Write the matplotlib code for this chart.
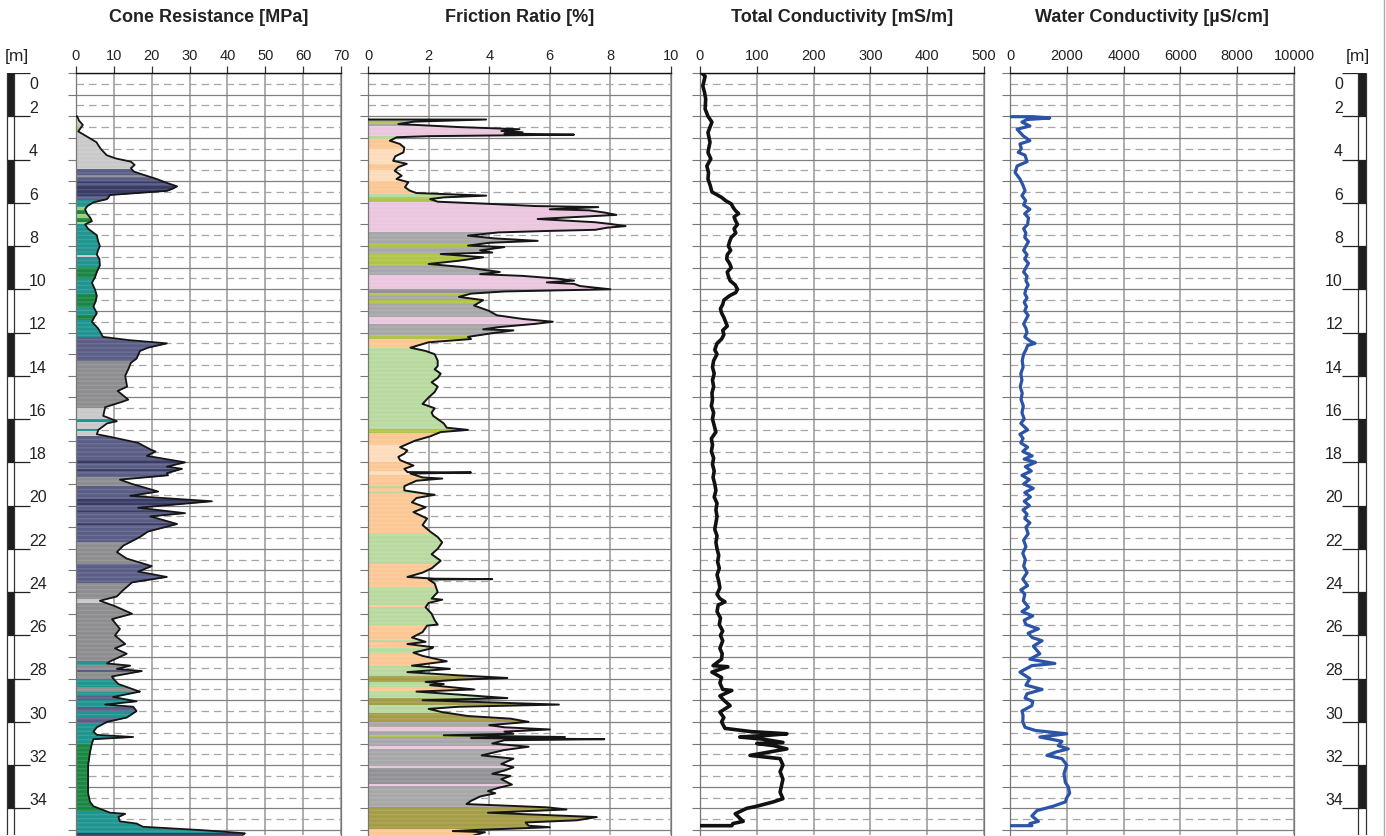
import numpy as np
import matplotlib
matplotlib.use("Agg")
import matplotlib.pyplot as plt
from matplotlib.patches import Rectangle
from matplotlib.lines import Line2D

plt.rcParams['font.family'] = ['Liberation Sans', 'DejaVu Sans']

# ---------------- data ----------------
QC_DEPTH = [2.0, 2.2, 2.4, 2.55, 2.7, 2.9, 3.2, 3.5, 3.8, 3.95, 4.1, 4.25, 4.4, 4.55, 4.7, 4.9, 5.05, 5.24, 5.35, 5.45,
            5.55, 5.64, 5.83, 5.98, 6.15, 6.3, 6.5, 6.7, 6.85, 7.0, 7.2, 7.5, 7.75, 8.0, 8.2, 8.4, 8.6, 8.9, 9.2, 9.45,
            9.7, 10.0, 10.3, 10.55, 10.8, 11.1, 11.3, 11.5, 11.8, 12.0, 12.2, 12.35, 12.5, 12.7, 12.85, 13.2, 13.4, 13.7,
            14.0, 14.5, 14.7, 15.1, 15.2, 15.45, 15.85, 16.1, 16.2, 16.5, 16.7, 16.85, 17.1, 17.4, 17.5, 17.7, 18.0, 18.2,
            18.3, 18.5, 18.6, 18.8, 19.0, 19.35, 19.55, 19.8, 20.1, 20.35, 20.5, 20.85, 21.2, 21.45, 21.85, 22.15, 22.45,
            22.8, 23.05, 23.3, 23.55, 23.95, 24.2, 24.4, 24.65, 25.0, 25.25, 25.7, 26.0, 26.4, 26.6, 26.85, 27.2, 27.3,
            27.4, 27.55, 27.65, 27.9, 28.0, 28.25, 28.55, 28.6, 28.85, 29.05, 29.2, 29.3, 29.5, 29.8, 30.0, 30.25, 30.45,
            30.6, 30.7, 30.8, 31.0, 31.4, 32.0, 33.3, 33.7, 33.9, 34.2, 34.25, 34.4, 34.6, 34.7, 34.85, 35.0, 35.1, 35.15,
            35.25]
QC_VALUE = [0.3, 0.8, 1.8, 1.2, 0.6, 2.5, 5.4, 6.5, 8.1, 10.5, 14.5, 15.5, 14.5, 15.2, 17.7, 21.3, 23.5, 26.7, 25.5, 24.0,
            16.0, 9.0, 8.2, 4.6, 3.0, 2.4, 2.9, 3.8, 4.2, 2.4, 3.2, 5.5, 5.8, 6.3, 5.8, 5.5, 6.2, 6.3, 5.5, 5.0,
            4.2, 5.0, 5.5, 5.2, 4.6, 5.5, 4.8, 4.2, 5.8, 6.5, 7.1, 14.0, 24.0, 19.0, 16.9, 16.0, 14.5, 13.8,
            13.0, 13.5, 11.0, 13.8, 12.2, 7.7, 7.2, 10.8, 8.2, 5.9, 5.5, 9.8, 16.4, 19.6, 21.0, 18.7, 28.8, 24.0,
            28.0, 24.0, 24.3, 11.6, 14.8, 21.7, 14.3, 35.9, 16.4, 28.8, 19.6, 26.7, 19.0, 16.9, 12.5, 10.8, 13.4,
            20.0, 16.4, 24.0, 14.8, 12.2, 10.8, 6.3, 10.3, 14.8, 9.5, 11.6, 10.3, 13.0, 10.3, 13.4, 9.0, 8.2,
            14.3, 10.8, 17.4, 9.5, 9.8, 11.2, 16.0, 16.9, 9.8, 16.0, 7.7, 15.1, 16.0, 13.4, 8.2, 5.5, 4.6,
            5.5, 15.1, 4.6, 4.2, 3.7, 3.2, 3.2, 3.7, 4.6, 9.0, 13.0, 11.2, 11.6, 16.0, 17.7, 32.7, 40.7, 44.6,
            44.0]

FR_DEPTH = [2.15, 2.25, 2.36, 2.5, 2.6, 2.68, 2.74, 2.8, 2.85, 2.92, 2.97, 3.13, 3.28, 3.45, 3.67, 3.85, 4.06, 4.2, 4.35,
            4.52, 4.75, 4.9, 5.05, 5.28, 5.44, 5.55, 5.67, 5.75, 5.83, 5.95, 6.05, 6.15, 6.2, 6.3, 6.35, 6.45, 6.56,
            6.65, 6.75, 6.9, 6.98, 7.08, 7.15, 7.25, 7.3, 7.37, 7.52, 7.65, 7.76, 7.85, 7.98, 8.05, 8.2, 8.3, 8.37,
            8.52, 8.68, 8.83, 8.98, 9.2, 9.3, 9.38, 9.5, 9.6, 9.68, 9.75, 9.85, 10.0, 10.1, 10.2, 10.35, 10.5, 10.75,
            11.0, 11.2, 11.37, 11.5, 11.6, 11.75, 11.85, 11.9, 12.05, 12.2, 12.3, 12.45, 12.7, 12.85, 13.0, 13.3,
            13.55, 13.7, 13.9, 14.1, 14.3, 14.5, 14.75, 15.0, 15.3, 15.5, 15.7, 15.85, 16.0, 16.2, 16.4, 16.5, 16.6,
            16.8, 17.0, 17.3, 17.45, 17.6, 17.75, 17.9, 18.15, 18.3, 18.45, 18.47, 18.52, 18.7, 18.75, 18.85, 19.1,
            19.3, 19.45, 19.5, 19.65, 19.85, 20.08, 20.3, 20.6, 20.9, 21.2, 21.45, 21.7, 22.0, 22.25, 22.55, 22.9,
            23.1, 23.3, 23.38, 23.4, 23.42, 23.6, 24.0, 24.3, 24.35, 24.5, 24.7, 25.0, 25.3, 25.5, 25.55, 25.85,
            26.1, 26.3, 26.4, 26.55, 26.6, 26.8, 26.95, 27.2, 27.4, 27.55, 27.7, 27.85, 27.97, 28.05, 28.15, 28.25,
            28.3, 28.5, 28.6, 28.9, 29.0, 29.2, 29.3, 29.4, 29.55, 29.73, 29.85, 30.0, 30.15, 30.25, 30.35, 30.45,
            30.55, 30.62, 30.7, 30.75, 30.8, 30.85, 31.0, 31.15, 31.3, 31.55, 31.7, 31.95, 32.1, 32.25, 32.4, 32.5,
            32.65, 32.9, 33.05, 33.2, 33.3, 33.45, 33.65, 33.8, 33.95, 34.05, 34.2, 34.4, 34.55, 34.65, 34.8, 34.87,
            35.0, 35.05, 35.1, 35.25]
FR_VALUE = [3.9, 1.5, 1.0, 3.0, 5.0, 4.4, 5.1, 4.5, 6.8, 2.0, 0.95, 0.72, 1.05, 1.2, 1.17, 0.9, 0.83, 1.28, 1.0,
            0.88, 1.11, 0.94, 1.33, 1.22, 1.38, 1.6, 3.9, 2.5, 2.05, 2.3, 4.0, 5.5, 7.6, 6.0, 7.3, 7.8, 8.2,
            7.0, 5.6, 7.5, 8.0, 8.5, 7.9, 7.5, 6.0, 4.3, 3.3, 4.2, 5.6, 4.0, 3.3, 4.5, 3.7, 4.1, 2.4,
            3.8, 3.0, 2.0, 3.2, 4.35, 3.7, 5.1, 6.2, 6.8, 5.9, 6.8, 7.0, 8.0, 4.5, 3.4, 3.0, 3.8, 3.5,
            4.0, 4.25, 5.1, 6.1, 5.5, 4.3, 3.8, 4.8, 4.0, 3.3, 3.4, 2.0, 1.4, 1.9, 2.2, 2.3,
            2.3, 2.2, 2.4, 2.3, 2.1, 2.3, 2.2, 2.0, 1.8, 2.2, 2.1, 2.15, 2.3, 2.5, 2.6, 3.3, 2.4,
            2.05, 1.55, 1.06, 1.3, 1.2, 1.0, 1.06, 1.5, 1.2, 1.3, 3.4, 1.4, 1.8, 2.45, 1.6, 1.2,
            1.2, 1.9, 2.2, 1.6, 1.45, 1.9, 1.5, 1.95, 1.8, 2.05, 2.3, 2.45, 2.3, 2.1, 2.4, 2.1,
            1.8, 1.3, 2.2, 4.1, 2.0, 2.2, 2.3, 2.1, 2.45, 2.0, 1.9, 2.1, 2.2, 2.3, 1.95, 1.8,
            1.45, 1.9, 1.3, 2.15, 2.1, 1.5, 1.8, 2.6, 1.45, 2.7, 1.3, 3.0, 4.6, 3.0, 1.9, 2.5,
            2.05, 3.5, 1.6, 4.6, 1.8, 6.3, 3.0, 2.0, 2.45, 3.3, 4.7, 5.3, 4.0, 4.5, 6.0, 4.5,
            4.8, 2.5, 6.5, 3.4, 7.8, 4.5, 4.1, 5.3, 4.5, 3.75, 4.8, 4.4, 4.8, 4.5, 4.1, 4.7,
            4.4, 4.75, 4.3, 3.96, 4.2, 3.7, 3.4, 3.25, 5.9, 6.55, 3.96, 7.55, 6.9, 5.2, 5.3, 6.0,
            3.5, 2.8, 3.86, 3.5]

TC_DEPTH = [0.0, 0.15, 0.6, 0.9, 1.2, 1.66, 2.0, 2.27, 2.75, 3.2, 3.67, 3.97, 4.3, 4.6, 4.9, 5.2, 5.5, 5.75, 5.9, 6.05,
            6.2, 6.35, 6.5, 6.65, 6.8, 7.0, 7.2, 7.4, 7.6, 7.8, 8.0, 8.2, 8.4, 8.6, 8.8, 9.0, 9.2, 9.4, 9.6, 9.8,
            10.0, 10.15, 10.3, 10.5, 10.7, 10.9, 11.1, 11.3, 11.5, 11.7, 11.9, 12.1, 12.3, 12.5, 12.8, 13.0, 13.3,
            13.6, 13.9, 14.2, 14.5, 14.8, 15.1, 15.4, 15.7, 16.0, 16.3, 16.6, 16.9, 17.2, 17.5, 17.8, 18.1, 18.4,
            18.7, 19.0, 19.3, 19.6, 19.9, 20.2, 20.5, 20.8, 21.1, 21.4, 21.7, 22.0, 22.3, 22.6, 22.9, 23.2, 23.5,
            23.8, 24.1, 24.3, 24.45, 24.6, 24.9, 25.2, 25.5, 25.8, 26.0, 26.25, 26.6, 26.85, 27.1, 27.4, 27.45,
            27.7, 27.95, 28.2, 28.5, 28.55, 28.8, 29.0, 29.25, 29.55, 29.8, 30.0, 30.3, 30.45, 30.55, 30.62, 30.7,
            30.8, 30.95, 31.0, 31.1, 31.25, 31.4, 31.55, 31.7, 32.0, 32.3, 32.65, 33.0, 33.25, 33.55, 33.7, 33.9,
            34.0, 34.25, 34.45, 34.6, 34.7, 34.8]
TC_VALUE = [3, 9, 5, 8, 10, 9, 14, 21, 14, 17.6, 14, 19, 12, 15, 14, 18, 21, 38, 45, 55,
            58, 62, 68, 60, 62, 66, 60, 63, 55, 52, 50, 54, 48, 47, 52, 55, 48, 50, 53, 62,
            66, 63, 52, 42, 40, 36, 38, 42, 45, 48, 40, 42, 38, 30, 26, 30, 24,
            22, 25, 22, 24, 21, 22, 20, 24, 22, 25, 28, 20, 22, 20, 24, 22, 25,
            23, 26, 28, 25, 30, 28, 30, 28, 26, 30, 28, 30, 33, 31, 34, 30, 33,
            35, 30, 35, 44, 32, 30, 36, 34, 40, 36, 40, 35, 39, 38, 23, 49,
            21, 38, 35, 40, 56, 35, 42, 53, 35, 42, 38, 44, 90, 153, 120, 70,
            111, 146, 100, 130, 153, 120, 88, 141, 146, 141, 146, 143, 141, 146, 129, 100,
            82, 62, 70, 76, 58, 56]

WC_DEPTH = [2.02, 2.08, 2.15, 2.27, 2.45, 2.6, 2.9, 3.13, 3.28, 3.5, 3.67, 3.8, 4.1, 4.3, 4.6, 4.9, 5.2, 5.44, 5.67,
            5.9, 6.1, 6.3, 6.5, 6.7, 7.0, 7.2, 7.4, 7.6, 7.8, 8.0, 8.2, 8.4, 8.6, 8.8, 9.0, 9.2, 9.4, 9.6, 9.8,
            10.0, 10.2, 10.4, 10.6, 10.8, 11.0, 11.2, 11.4, 11.6, 11.8, 12.0, 12.2, 12.4, 12.5, 12.6, 12.8, 13.0,
            13.3, 13.6, 13.9, 14.2, 14.5, 14.8, 15.1, 15.4, 15.7, 16.0, 16.2, 16.5, 16.7, 16.9, 17.1, 17.3, 17.5,
            17.7, 17.85, 18.0, 18.2, 18.4, 18.6, 18.8, 19.0, 19.2, 19.4, 19.6, 19.8, 20.0, 20.2, 20.4, 20.6, 20.8,
            21.0, 21.3, 21.6, 21.9, 22.2, 22.5, 22.8, 23.1, 23.4, 23.7, 23.9, 24.1, 24.4, 24.7, 24.9, 25.1, 25.3,
            25.5, 25.7, 25.9, 26.1, 26.25, 26.5, 26.85, 27.1, 27.3, 27.4, 27.7, 28.0, 28.3, 28.5, 28.7, 28.9, 29.05,
            29.25, 29.5, 29.7, 30.0, 30.25, 30.4, 30.55, 30.7, 30.9, 31.1, 31.25, 31.4, 31.55, 31.7, 32.0, 32.4,
            32.8, 33.0, 33.3, 33.5, 33.7, 33.9, 34.1, 34.35, 34.6, 34.7, 34.8]
WC_VALUE = [800, 1400, 600, 420, 700, 250, 460, 700, 350, 400, 290, 530, 600, 250, 180, 350, 460, 530, 420,
            550, 480, 700, 520, 650, 620, 480, 560, 520, 650, 560, 480, 600, 520, 650, 560, 480, 600, 560, 640,
            560, 520, 600, 500, 580, 520, 640, 560, 480, 560, 600, 520, 720, 880, 620, 560, 480,
            430, 460, 380, 420, 360, 430, 390, 470, 420, 500, 380, 620, 350, 460, 380, 620, 450,
            780, 500, 900, 540, 750, 420, 680, 480, 820, 520, 720, 500, 680, 460, 600, 520, 700,
            560, 640, 480, 560, 450, 540, 480, 600, 450, 620, 380, 520, 470, 650, 420, 800, 500,
            560, 1000, 640, 780, 1130, 820, 1050, 700, 1580, 770, 350, 700, 560, 1130, 600, 530, 800,
            770, 420, 460, 450, 530, 900, 2000, 1050, 1830, 1700, 2050, 1600, 1300, 1830, 2000, 1900,
            1950, 2050, 2100, 2000, 1950, 1520, 950, 770, 1000, 700, 770]

# soil-type colour zones (top, bottom, class)
QC_ZONES = [(2.0, 2.45, 'lgrey'), (2.45, 2.75, 'lgreen'), (2.75, 4.45, 'lgrey'), (4.45, 4.7, 'slate'),
            (4.7, 4.8, 'grey'), (4.8, 5.0, 'slate'), (5.0, 5.1, 'navy'), (5.1, 5.2, 'slate'), (5.2, 5.7, 'navy'),
            (5.7, 5.85, 'slate'), (5.85, 6.2, 'teal'), (6.2, 6.35, 'lgreen'), (6.35, 6.5, 'green'),
            (6.5, 6.7, 'lgreen'), (6.7, 6.9, 'green'), (6.9, 7.0, 'lgreen'), (7.0, 8.4, 'teal'),
            (8.4, 8.5, 'lgrey'), (8.5, 9.0, 'teal'), (9.0, 9.5, 'green'), (9.5, 10.2, 'teal'),
            (10.2, 10.8, 'green'), (10.8, 11.2, 'teal'), (11.2, 11.4, 'green'), (11.4, 12.2, 'teal'),
            (12.2, 13.3, 'slate'), (13.3, 15.5, 'grey'), (15.5, 16.0, 'lgrey'), (16.0, 16.15, 'teal'),
            (16.15, 16.45, 'lgrey'), (16.45, 16.55, 'teal'), (16.55, 16.8, 'lgrey'), (16.8, 17.9, 'slate'),
            (17.9, 18.05, 'navy'), (18.05, 18.3, 'slate'), (18.3, 18.4, 'navy'), (18.4, 18.7, 'slate'),
            (18.7, 19.1, 'grey'), (19.1, 19.7, 'slate'), (19.7, 19.95, 'navy'), (19.95, 20.2, 'slate'),
            (20.2, 20.3, 'navy'), (20.3, 20.8, 'slate'), (20.8, 20.9, 'navy'), (20.9, 21.7, 'slate'),
            (21.7, 22.7, 'grey'), (22.7, 23.6, 'slate'), (23.6, 24.3, 'grey'), (24.3, 24.5, 'lgrey'),
            (24.5, 27.2, 'grey'), (27.2, 27.35, 'teal'), (27.35, 27.6, 'grey'), (27.6, 27.7, 'slate'),
            (27.7, 28.0, 'grey'), (28.0, 28.4, 'teal'), (28.4, 28.6, 'grey'), (28.6, 28.8, 'teal'),
            (28.8, 29.0, 'slate'), (29.0, 29.3, 'teal'), (29.3, 29.5, 'slate'), (29.5, 29.8, 'teal'),
            (29.8, 30.05, 'slate'), (30.05, 31.0, 'teal'), (31.0, 34.1, 'green'), (34.1, 35.15, 'teal'),
            (35.15, 35.3, 'navy')]

FR_ZONES = [(2.1, 2.25, 'grey2'), (2.25, 2.35, 'ygreen'), (2.35, 2.45, 'grey2'), (2.45, 2.9, 'pink'),
            (2.9, 3.05, 'lgreen2'), (3.05, 3.5, 'peach'), (3.5, 4.2, 'lpeach'), (4.2, 4.5, 'peach'),
            (4.5, 5.0, 'lpeach'), (5.0, 5.6, 'peach'), (5.6, 5.75, 'lgreen2'), (5.75, 5.95, 'ygreen'),
            (5.95, 7.35, 'pink'), (7.35, 7.9, 'grey2'), (7.9, 8.05, 'ygreen'), (8.05, 8.3, 'grey2'),
            (8.3, 8.9, 'ygreen'), (8.9, 9.35, 'grey2'), (9.35, 10.0, 'pink'), (10.0, 10.15, 'dgrey2'),
            (10.15, 10.3, 'ygreen'), (10.3, 10.5, 'grey2'), (10.5, 10.7, 'ygreen'), (10.7, 11.3, 'grey2'),
            (11.3, 11.6, 'pink'), (11.6, 12.1, 'grey2'), (12.1, 12.3, 'ygreen'), (12.3, 12.7, 'peach'),
            (12.7, 16.45, 'lgreen2'), (16.45, 16.65, 'ygreen'), (16.65, 17.2, 'peach'), (17.2, 18.0, 'lpeach'),
            (18.0, 18.4, 'peach'), (18.4, 18.6, 'lpeach'), (18.6, 19.1, 'peach'), (19.1, 19.2, 'lgreen2'),
            (19.2, 19.35, 'peach'), (19.35, 19.45, 'lgreen2'), (19.45, 21.3, 'peach'), (21.3, 22.7, 'lgreen2'),
            (22.7, 23.8, 'peach'), (23.8, 24.6, 'lgreen2'), (24.6, 24.7, 'peach'), (24.7, 25.5, 'lgreen2'),
            (25.5, 26.2, 'peach'), (26.2, 26.3, 'lgreen2'), (26.3, 26.6, 'peach'), (26.6, 26.8, 'lgreen2'),
            (26.8, 27.4, 'peach'), (27.4, 27.9, 'lgreen2'), (27.9, 28.15, 'olive'), (28.15, 28.4, 'lgreen2'),
            (28.4, 28.6, 'peach'), (28.6, 28.9, 'lgreen2'), (28.9, 29.2, 'olive'), (29.2, 29.6, 'lgreen2'),
            (29.6, 30.0, 'olive'), (30.0, 30.25, 'grey2'), (30.25, 30.4, 'pink'), (30.4, 30.6, 'grey2'),
            (30.6, 30.7, 'ygreen'), (30.7, 31.1, 'grey2'), (31.1, 31.25, 'pink'), (31.25, 32.05, 'grey2'),
            (32.05, 32.15, 'pink'), (32.15, 32.85, 'dgrey2'), (32.85, 32.95, 'pink'), (32.95, 33.95, 'grey2'),
            (33.95, 34.95, 'olive'), (34.95, 35.3, 'peach')]

ZONE_COLORS = {'lgrey': '#c9c9c9', 'grey': '#8d8d90', 'slate': '#5a5e86', 'navy': '#383b66',
               'teal': '#1f958f', 'green': '#1a8642', 'lgreen': '#9ccf78',
               'pink': '#ebc6df', 'peach': '#fbc894', 'lpeach': '#fddcbc', 'lgreen2': '#b8da9f',
               'ygreen': '#b2c444', 'olive': '#a49c46', 'grey2': '#a7a7aa', 'dgrey2': '#929296'}

TITLES = ['Cone Resistance [MPa]', 'Friction Ratio [%]', 'Total Conductivity [mS/m]', 'Water Conductivity [µS/cm]']
XMAX = [70, 10, 500, 10000]
XSTEP = [10, 2, 100, 2000]
DEPTH_LABELS = list(range(0, 35, 2))

# ---------------- layout ----------------
W, H = 1386, 837
TOP, BOT = 74, 836
YMAX = 35.23
fig = plt.figure(figsize=(W / 100, H / 100), dpi=100)

def add_ax(left, right):
    return fig.add_axes([left / W, 1 - BOT / H, (right - left) / W, (BOT - TOP) / H])

panel_px = [(76, 341), (368, 671), (700, 984), (1010, 1294)]
axes = [add_ax(l, r) for l, r in panel_px]

for ax, xmax, step, title, (l, r) in zip(axes, XMAX, XSTEP, TITLES, panel_px):
    ax.set_xlim(0, xmax)
    ax.set_ylim(YMAX, 0)
    ax.xaxis.tick_top()
    ax.set_xticks(np.arange(0, xmax + 1e-9, step))
    ax.set_xticklabels([f'{int(v)}' for v in np.arange(0, xmax + 1e-9, step)])
    ax.tick_params(axis='x', top=True, bottom=False, length=5, width=0.9, color='#333',
                   labelsize=10.5, pad=3, labelcolor='#222')
    ax.set_yticks(np.arange(0, 36, 1))
    ax.set_yticks(np.arange(0.5, 35.5, 1), minor=True)
    ax.tick_params(axis='y', which='major', left=True, right=False, length=6, width=0.8,
                   color='#777', labelleft=False)
    ax.tick_params(axis='y', which='minor', left=False, right=False)
    ax.set_axisbelow(True)
    ax.grid(axis='y', which='major', color='#808080', lw=0.9)
    ax.grid(axis='y', which='minor', color='#a6a6a6', lw=0.9, ls=(0, (6, 4)))
    ax.grid(axis='x', which='major', color='#a0a0a0', lw=1.2)
    ax.spines['top'].set_color('#111')
    ax.spines['top'].set_linewidth(1.0)
    for s in ('left', 'right'):
        ax.spines[s].set_color('#777')
        ax.spines[s].set_linewidth(0.9)
    ax.spines['bottom'].set_visible(False)
    fig.text((l + r) / 2 / W, 1 - 18 / H, title, ha='center', va='center',
             fontsize=13, fontweight='bold', color='#222')


def zone_fill(ax, depth, value, zones):
    d = np.asarray(depth)
    v = np.asarray(value)
    xmax = ax.get_xlim()[1]
    for top, bot, key in zones:
        poly = ax.fill_betweenx(d, 0, v, color=ZONE_COLORS[key], lw=0, zorder=2)
        poly.set_clip_path(Rectangle((0, top), xmax, bot - top, transform=ax.transData))
        hatch = ax.fill_betweenx(d, 0, v, facecolor='none', edgecolor=(1, 1, 1, 0.12),
                                 hatch='----', lw=0, zorder=2.1)
        hatch.set_clip_path(Rectangle((0, top), xmax, bot - top, transform=ax.transData))


zone_fill(axes[0], QC_DEPTH, QC_VALUE, QC_ZONES)
axes[0].plot(np.r_[0, QC_VALUE], np.r_[QC_DEPTH[0], QC_DEPTH], color='#151515', lw=1.3, zorder=3)

zone_fill(axes[1], FR_DEPTH, FR_VALUE, FR_ZONES)
axes[1].plot(np.r_[0, FR_VALUE], np.r_[FR_DEPTH[0], FR_DEPTH], color='#151515', lw=1.4, zorder=3)

axes[2].plot(np.r_[TC_VALUE, 0], np.r_[TC_DEPTH, TC_DEPTH[-1]], color='#111', lw=2.6, zorder=3)
axes[3].plot(np.r_[0, WC_VALUE, 0], np.r_[WC_DEPTH[0], WC_DEPTH, WC_DEPTH[-1]],
             color='#2b54a8', lw=2.3, zorder=3)

# ---------------- depth scale bars ----------------
def depth_bar(x0, x1, bar_l, bar_r, tick_l, tick_r, lab_x, ha, mx):
    ax = fig.add_axes([x0 / W, 1 - BOT / H, (x1 - x0) / W, (BOT - TOP) / H])
    ax.set_xlim(x0, x1)
    ax.set_ylim(YMAX, 0)
    ax.axis('off')
    for d in DEPTH_LABELS:
        if d % 4 == 0:
            ax.add_patch(Rectangle((bar_l, d), bar_r - bar_l, min(2, YMAX - d), fc='#1e1e1e', ec='none'))
    ax.vlines([bar_l, bar_r], 0, YMAX, color='#333', lw=0.9)
    ax.hlines(DEPTH_LABELS, tick_l, tick_r, color='#222', lw=0.9)
    for d in DEPTH_LABELS:
        y = 0.5 if d == 0 else d - 0.4
        ax.text(lab_x, y, str(d), ha=ha, va='center', fontsize=11.5, color='#222')
    fig.text(mx / W, 1 - 56 / H, '[m]', ha='center', va='center', fontsize=12.5, color='#222')

depth_bar(0, 60, 7, 14, 7, 30, 29, 'left', 17)
depth_bar(1310, 1380, 1358, 1366, 1342, 1366, 1343, 'right', 1358)

fig.add_artist(Line2D([1383.5 / W, 1383.5 / W], [0, 1], color='#aaa', lw=1.0))

fig.savefig('out.png', dpi=100)
